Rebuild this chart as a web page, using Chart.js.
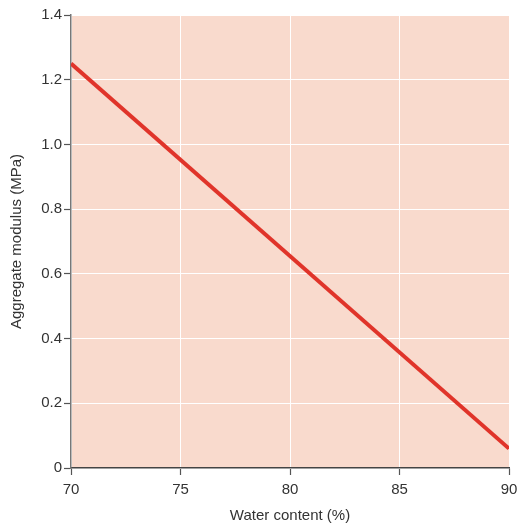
<!DOCTYPE html>
<html>
<head>
<meta charset="utf-8">
<script src="https://cdn.jsdelivr.net/npm/chart.js@4/dist/chart.umd.min.js"></script>
<style>
  html, body { margin: 0; padding: 0; background: #ffffff; }
  #wrap { width: 519px; height: 525px; position: relative; }
</style>
</head>
<body>
<div id="wrap"><canvas id="c"></canvas></div>
<script>
// Water content (%) and the aggregate modulus (MPa) at each end of the fitted line
const waterContent = [70, 90];
const aggregateModulus = [1.25, 0.06];
const xTicks = [70, 75, 80, 85, 90];
const yTicks = [0, 0.2, 0.4, 0.6, 0.8, 1.0, 1.2, 1.4];

// Paint the plot area peach behind grid lines and data
const plotBackground = {
  id: 'plotBackground',
  beforeDraw(chart) {
    const { ctx, chartArea: a } = chart;
    ctx.save();
    ctx.fillStyle = '#f9dacd';
    ctx.fillRect(a.left, a.top, a.right - a.left, a.bottom - a.top);
    ctx.restore();
  }
};

const font = { family: '"Liberation Sans", Arial, sans-serif', size: 15 };

new Chart(document.getElementById('c'), {
  type: 'line',
  data: {
    datasets: [{
      data: waterContent.map((x, i) => ({ x, y: aggregateModulus[i] })),
      borderColor: '#e0342a',
      borderWidth: 4,
      borderCapStyle: 'butt',
      pointRadius: 0,
      tension: 0
    }]
  },
  options: {
    responsive: true,
    maintainAspectRatio: false,
    animation: false,
    layout: { padding: { top: 15, right: 0, left: 0, bottom: 0 } },
    plugins: { legend: { display: false }, tooltip: { enabled: false } },
    scales: {
      x: {
        type: 'linear',
        min: 70, max: 90,
        afterBuildTicks: s => { s.ticks = xTicks.map(v => ({ value: v })); },
        afterFit: s => { s.height = 57; s.paddingRight = 10; },
        ticks: { color: '#333333', font, padding: 6, maxRotation: 0 },
        grid: { color: '#ffffff', lineWidth: 1, tickLength: 7, tickColor: '#555555', tickWidth: 1.2 },
        border: { color: '#444444', width: 1.5 },
        title: { display: true, text: 'Water content (%)', color: '#333333', font, padding: { top: 6, bottom: 0 } }
      },
      y: {
        type: 'linear',
        min: 0, max: 1.4,
        afterBuildTicks: s => { s.ticks = yTicks.map(v => ({ value: v })); },
        afterFit: s => { s.width = 71; },
        ticks: {
          color: '#333333', font, padding: 2,
          callback: v => (v === 0 ? '0' : v.toFixed(1))
        },
        grid: { color: '#ffffff', lineWidth: 1, tickLength: 7, tickColor: '#555555', tickWidth: 1.2 },
        border: { color: '#777777', width: 1.5 },
        title: { display: true, text: 'Aggregate modulus (MPa)', color: '#333333', font, padding: { top: 8, bottom: 0 } }
      }
    }
  },
  plugins: [plotBackground]
});
</script>
</body>
</html>
